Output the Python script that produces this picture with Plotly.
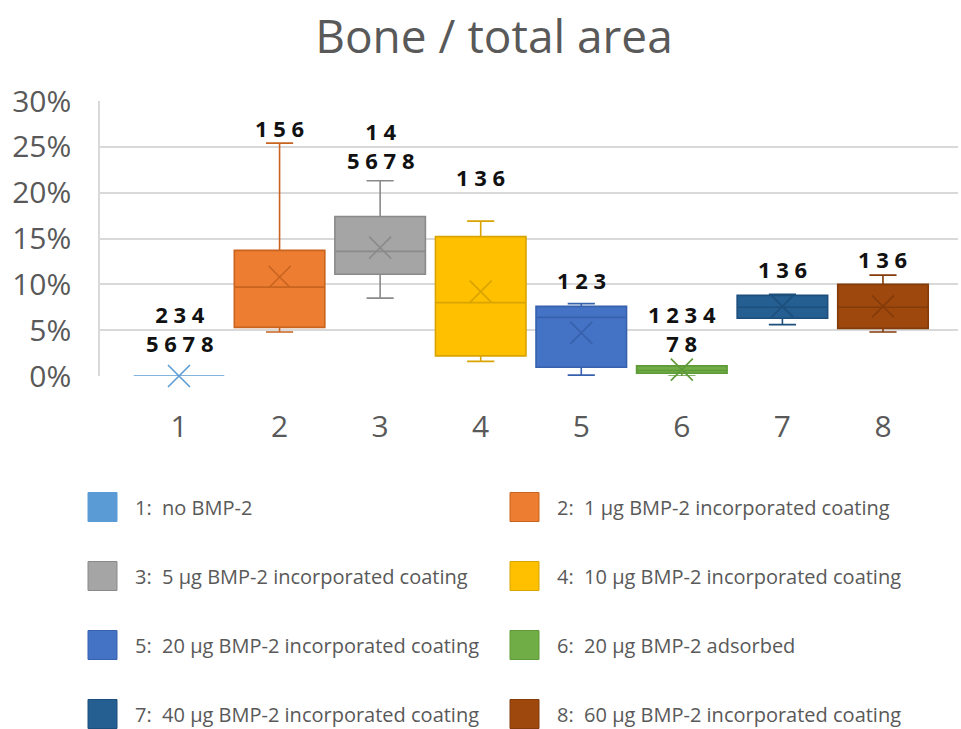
import plotly.graph_objects as go

# ---------------- data ----------------
groups = [1, 2, 3, 4, 5, 6, 7, 8]
q1 = [0.000, 0.053, 0.111, 0.022, 0.0095, 0.003, 0.063, 0.052]
median = [0.000, 0.097, 0.136, 0.080, 0.064, 0.006, 0.075, 0.075]
q3 = [0.000, 0.137, 0.174, 0.152, 0.076, 0.011, 0.088, 0.100]
lower_whisker = [0.000, 0.048, 0.085, 0.016, 0.001, 0.000, 0.056, 0.048]
upper_whisker = [0.000, 0.254, 0.213, 0.169, 0.079, 0.011, 0.089, 0.110]
mean = [0.000, 0.108, 0.140, 0.092, 0.047, 0.007, 0.076, 0.076]

sig_labels = ["2 3 4<br>5 6 7 8", "1 5 6", "1 4<br>5 6 7 8", "1 3 6",
              "1 2 3", "1 2 3 4<br>7 8", "1 3 6", "1 3 6"]
sig_label_y = [0.0518, 0.2705, 0.252, 0.2171, 0.1047, 0.0518, 0.1167, 0.1276]

legend_labels = [
    "1:  no BMP-2",
    "2:  1 µg BMP-2 incorporated coating",
    "3:  5 µg BMP-2 incorporated coating",
    "4:  10 µg BMP-2 incorporated coating",
    "5:  20 µg BMP-2 incorporated coating",
    "6:  20 µg BMP-2 adsorbed",
    "7:  40 µg BMP-2 incorporated coating",
    "8:  60 µg BMP-2 incorporated coating",
]
fill_colors = ["#5B9BD5", "#ED7D31", "#A5A5A5", "#FFC000",
               "#4472C4", "#70AD47", "#255E91", "#9E480E"]
line_colors = ["#5B9BD5", "#C8641F", "#8A8A8A", "#D9A300",
               "#3761AD", "#5E9A38", "#1D4F7D", "#843B0A"]

y_ticks = [0, 0.05, 0.10, 0.15, 0.20, 0.25, 0.30]
y_tick_text = ["0%", "5%", "10%", "15%", "20%", "25%", "30%"]

# ---------------- figure ----------------
W, H = 961, 729
L, R_PX, T, B_PX = 100, 958, 101, 376   # plot area in pixels

fig = go.Figure()

for i, g in enumerate(groups):
    fig.add_trace(go.Box(
        x=[g], q1=[q1[i]], median=[median[i]], q3=[q3[i]],
        lowerfence=[lower_whisker[i]], upperfence=[upper_whisker[i]],
        width=0.9, whiskerwidth=0.3,
        fillcolor=fill_colors[i],
        line=dict(color=line_colors[i], width=1.6),
        boxpoints=False, showlegend=False, name=str(g),
    ))
    fig.add_trace(go.Scatter(
        x=[g], y=[mean[i]], mode="markers",
        marker=dict(symbol="x-thin", size=22,
                    line=dict(color=line_colors[i], width=1.6)),
        showlegend=False, cliponaxis=False, hoverinfo="skip",
    ))

annotations = []
for i, g in enumerate(groups):
    annotations.append(dict(
        x=g, y=sig_label_y[i], xref="x", yref="y",
        text="<b>" + sig_labels[i] + "</b>", showarrow=False,
        font=dict(family="Open Sans", size=22, color="#111111"),
        xanchor="center", yanchor="middle", align="center",
    ))

# custom legend (two columns, four rows), positions in pixels
def xp(px):
    return (px - L) / (R_PX - L)

def yp(py):
    return (B_PX - py) / (B_PX - T)

row_y = [507, 576, 645, 714]
col_sw = [88, 510]
col_txt = [133, 555]
sw = 29
shapes = []
for i, lab in enumerate(legend_labels):
    r, c = i // 2, i % 2
    cy = row_y[r]
    shapes.append(dict(
        type="rect", xref="paper", yref="paper",
        x0=xp(col_sw[c]), x1=xp(col_sw[c] + sw),
        y0=yp(cy + sw / 2), y1=yp(cy - sw / 2),
        fillcolor=fill_colors[i], line=dict(color=line_colors[i], width=1),
    ))
    annotations.append(dict(
        x=xp(col_txt[c]), y=yp(cy), xref="paper", yref="paper",
        text=lab, showarrow=False, xanchor="left", yanchor="middle",
        font=dict(family="Open Sans", size=20, color="#595959"),
    ))

fig.update_layout(
    width=W, height=H,
    margin=dict(l=L, r=W - R_PX, t=T, b=H - B_PX, pad=0),
    paper_bgcolor="white", plot_bgcolor="white",
    title=dict(text="Bone / total area", x=494 / W, xref="container",
               xanchor="center", y=1 - 37 / H, yref="container",
               yanchor="middle",
               font=dict(family="Open Sans", size=46, color="#595959")),
    annotations=annotations, shapes=shapes,
    showlegend=False,
)
fig.update_xaxes(
    range=[0.2145, 8.746], tickvals=groups, ticktext=[str(g) for g in groups],
    showgrid=False, zeroline=False, showline=False,
    ticks="outside", ticklen=24, tickcolor="rgba(0,0,0,0)",
    tickfont=dict(family="Open Sans", size=30, color="#595959"),
)
fig.update_yaxes(
    range=[0, 0.30], tickvals=y_ticks, ticktext=y_tick_text,
    showgrid=True, gridcolor="#D9D9D9", gridwidth=1.5,
    zeroline=False, showline=True, linecolor="#D9D9D9", linewidth=1.5,
    ticks="outside", ticklen=21, tickcolor="rgba(0,0,0,0)",
    tickfont=dict(family="Open Sans", size=30, color="#595959"),
)

fig.write_html("out.html",
               config={"displayModeBar": False},
               post_script="document.body.style.margin='0px';")
